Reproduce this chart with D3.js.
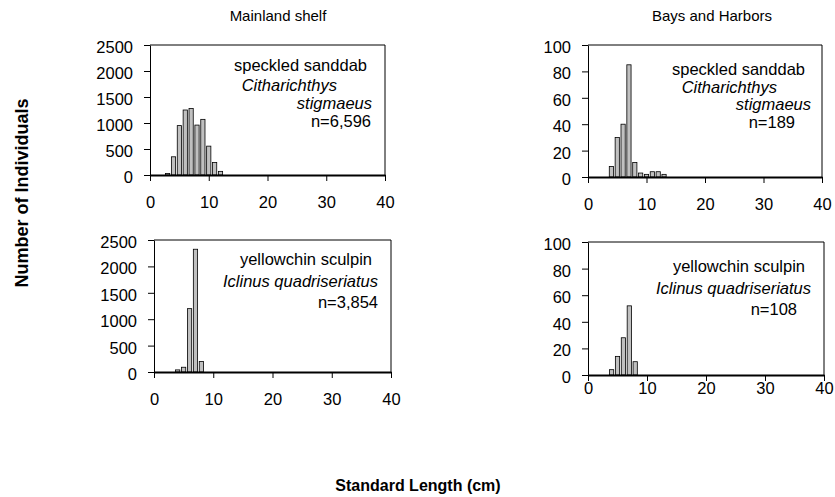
<!DOCTYPE html>
<html>
<head>
<meta charset="utf-8">
<script src="https://cdn.jsdelivr.net/npm/d3@7"></script>
<style>
  html, body { margin: 0; padding: 0; background: #fff; }
  svg { display: block; font-family: "Liberation Sans", Arial, sans-serif; }
</style>
</head>
<body>
<svg id="chart" width="835" height="497"></svg>
<script>
// Length-frequency counts (fish per 1-cm standard-length class)
const shelfSanddabCm    = [3, 4, 5, 6, 7, 8, 9, 10, 11, 12];
const shelfSanddabCount = [30, 350, 950, 1250, 1280, 960, 1070, 555, 240, 70];

const baySanddabCm    = [4, 5, 6, 7, 8, 9, 10, 11, 12, 13];
const baySanddabCount = [8, 30, 40, 85, 11, 3, 2, 4, 4, 2];

const shelfSculpinCm    = [4, 5, 6, 7, 8];
const shelfSculpinCount = [40, 90, 1200, 2325, 199];

const baySculpinCm    = [4, 5, 6, 7, 8];
const baySculpinCount = [4, 14, 28, 52, 10];

// Axis ticks
const lengthTicks      = [0, 10, 20, 30, 40];
const shelfCountTicks  = [0, 500, 1000, 1500, 2000, 2500];
const bayCountTicks    = [0, 20, 40, 60, 80, 100];

// Column headings and axis titles
const habitatTitles = ["Mainland shelf", "Bays and Harbors"];
const xTitle = "Standard Length (cm)";
const yTitle = "Number of Individuals";

// Species labels: [text, italic]
const sanddabShelfLabel = [["speckled sanddab", false], ["Citharichthys", true], ["stigmaeus", true], ["n=6,596", false]];
const sanddabBayLabel   = [["speckled sanddab", false], ["Citharichthys", true], ["stigmaeus", true], ["n=189", false]];
const sculpinShelfLabel = [["yellowchin sculpin", false], ["Iclinus quadriseriatus", true], ["n=3,854", false]];
const sculpinBayLabel   = [["yellowchin sculpin", false], ["Iclinus quadriseriatus", true], ["n=108", false]];

const svg = d3.select("#chart");

// Panel layout: plot box, label anchors and tick label spacing
const panels = [
  { cm: shelfSanddabCm, count: shelfSanddabCount, yTicks: shelfCountTicks,
    box: { l: 150, r: 385, t: 45, b: 175 }, xPad: 15.5,
    label: sanddabShelfLabel, ends: [367, 337, 372, 371], baselines: [71, 90.5, 108.5, 127] },
  { cm: baySanddabCm, count: baySanddabCount, yTicks: bayCountTicks,
    box: { l: 588, r: 822, t: 45, b: 177 }, xPad: 15.5,
    label: sanddabBayLabel, ends: [805, 777, 811, 795], baselines: [75, 93, 110, 128] },
  { cm: shelfSculpinCm, count: shelfSculpinCount, yTicks: shelfCountTicks,
    box: { l: 154, r: 391, t: 240, b: 372 }, xPad: 15.5,
    label: sculpinShelfLabel, ends: [372, 378, 378], baselines: [265, 287, 308] },
  { cm: baySculpinCm, count: baySculpinCount, yTicks: bayCountTicks,
    box: { l: 588, r: 824, t: 242, b: 375 }, xPad: 1,
    label: sculpinBayLabel, ends: [805, 811, 797], baselines: [272, 293.5, 315] }
];

panels.forEach(p => {
  const { l, r, t, b } = p.box;
  const x = d3.scaleLinear().domain([0, 40]).range([l, r]);
  const yMax = p.yTicks[p.yTicks.length - 1];
  const y = d3.scaleLinear().domain([0, yMax]).range([b, t]);
  const g = svg.append("g");

  // plot frame (top and right edges)
  g.append("path")
    .attr("d", `M${l},${t}H${r}V${b}`)
    .attr("fill", "none").attr("stroke", "#000").attr("stroke-width", 1);

  // bars centred on each length class
  const barW = (x(1) - x(0)) * 0.72;
  g.selectAll("rect.bar")
    .data(p.cm.map((c, i) => ({ c, n: p.count[i] })))
    .join("rect")
    .attr("class", "bar")
    .attr("x", d => x(d.c) - barW / 2)
    .attr("width", barW)
    .attr("y", d => y(d.n))
    .attr("height", d => y(0) - y(d.n))
    .attr("fill", "#c0c0c0")
    .attr("stroke", "#000")
    .attr("stroke-width", 0.8);

  // y axis
  const ya = g.append("g")
    .attr("transform", `translate(${l},0)`)
    .call(d3.axisLeft(y).tickValues(p.yTicks).tickFormat(d3.format("d"))
      .tickSize(6).tickSizeOuter(0).tickPadding(11));
  ya.select(".domain").attr("stroke", "#000").attr("stroke-width", 1);
  ya.selectAll(".tick line").attr("stroke", "#000");
  ya.selectAll(".tick text")
    .attr("font-size", 16.5).attr("fill", "#000").attr("dy", "0.45em")
    .attr("font-family", "Liberation Sans, Arial, sans-serif");

  // x axis
  const xa = g.append("g")
    .attr("transform", `translate(0,${b})`)
    .call(d3.axisBottom(x).tickValues(lengthTicks).tickFormat(d3.format("d"))
      .tickSize(6).tickSizeOuter(0).tickPadding(p.xPad));
  xa.select(".domain").attr("stroke", "#000").attr("stroke-width", 2);
  xa.selectAll(".tick line").attr("stroke", "#000");
  xa.selectAll(".tick text")
    .attr("font-size", 16.5).attr("fill", "#000")
    .attr("font-family", "Liberation Sans, Arial, sans-serif");

  // species label
  p.label.forEach(([txt, it], i) => {
    g.append("text")
      .attr("x", p.ends[i]).attr("y", p.baselines[i])
      .attr("text-anchor", "end")
      .attr("font-size", 16.5)
      .attr("font-style", it ? "italic" : "normal")
      .attr("fill", "#000")
      .text(txt);
  });
});

// column headings
svg.append("text").attr("x", 278).attr("y", 21).attr("text-anchor", "middle")
  .attr("font-size", 15).attr("fill", "#000").text(habitatTitles[0]);
svg.append("text").attr("x", 712).attr("y", 21).attr("text-anchor", "middle")
  .attr("font-size", 15).attr("fill", "#000").text(habitatTitles[1]);

// axis titles
svg.append("text").attr("x", 418).attr("y", 491).attr("text-anchor", "middle")
  .attr("font-size", 16).attr("font-weight", "bold").attr("fill", "#000").text(xTitle);
svg.append("text")
  .attr("transform", "translate(28,193) rotate(-90)")
  .attr("text-anchor", "middle")
  .attr("font-size", 18).attr("font-weight", "bold").attr("fill", "#000").text(yTitle);
</script>
</body>
</html>
